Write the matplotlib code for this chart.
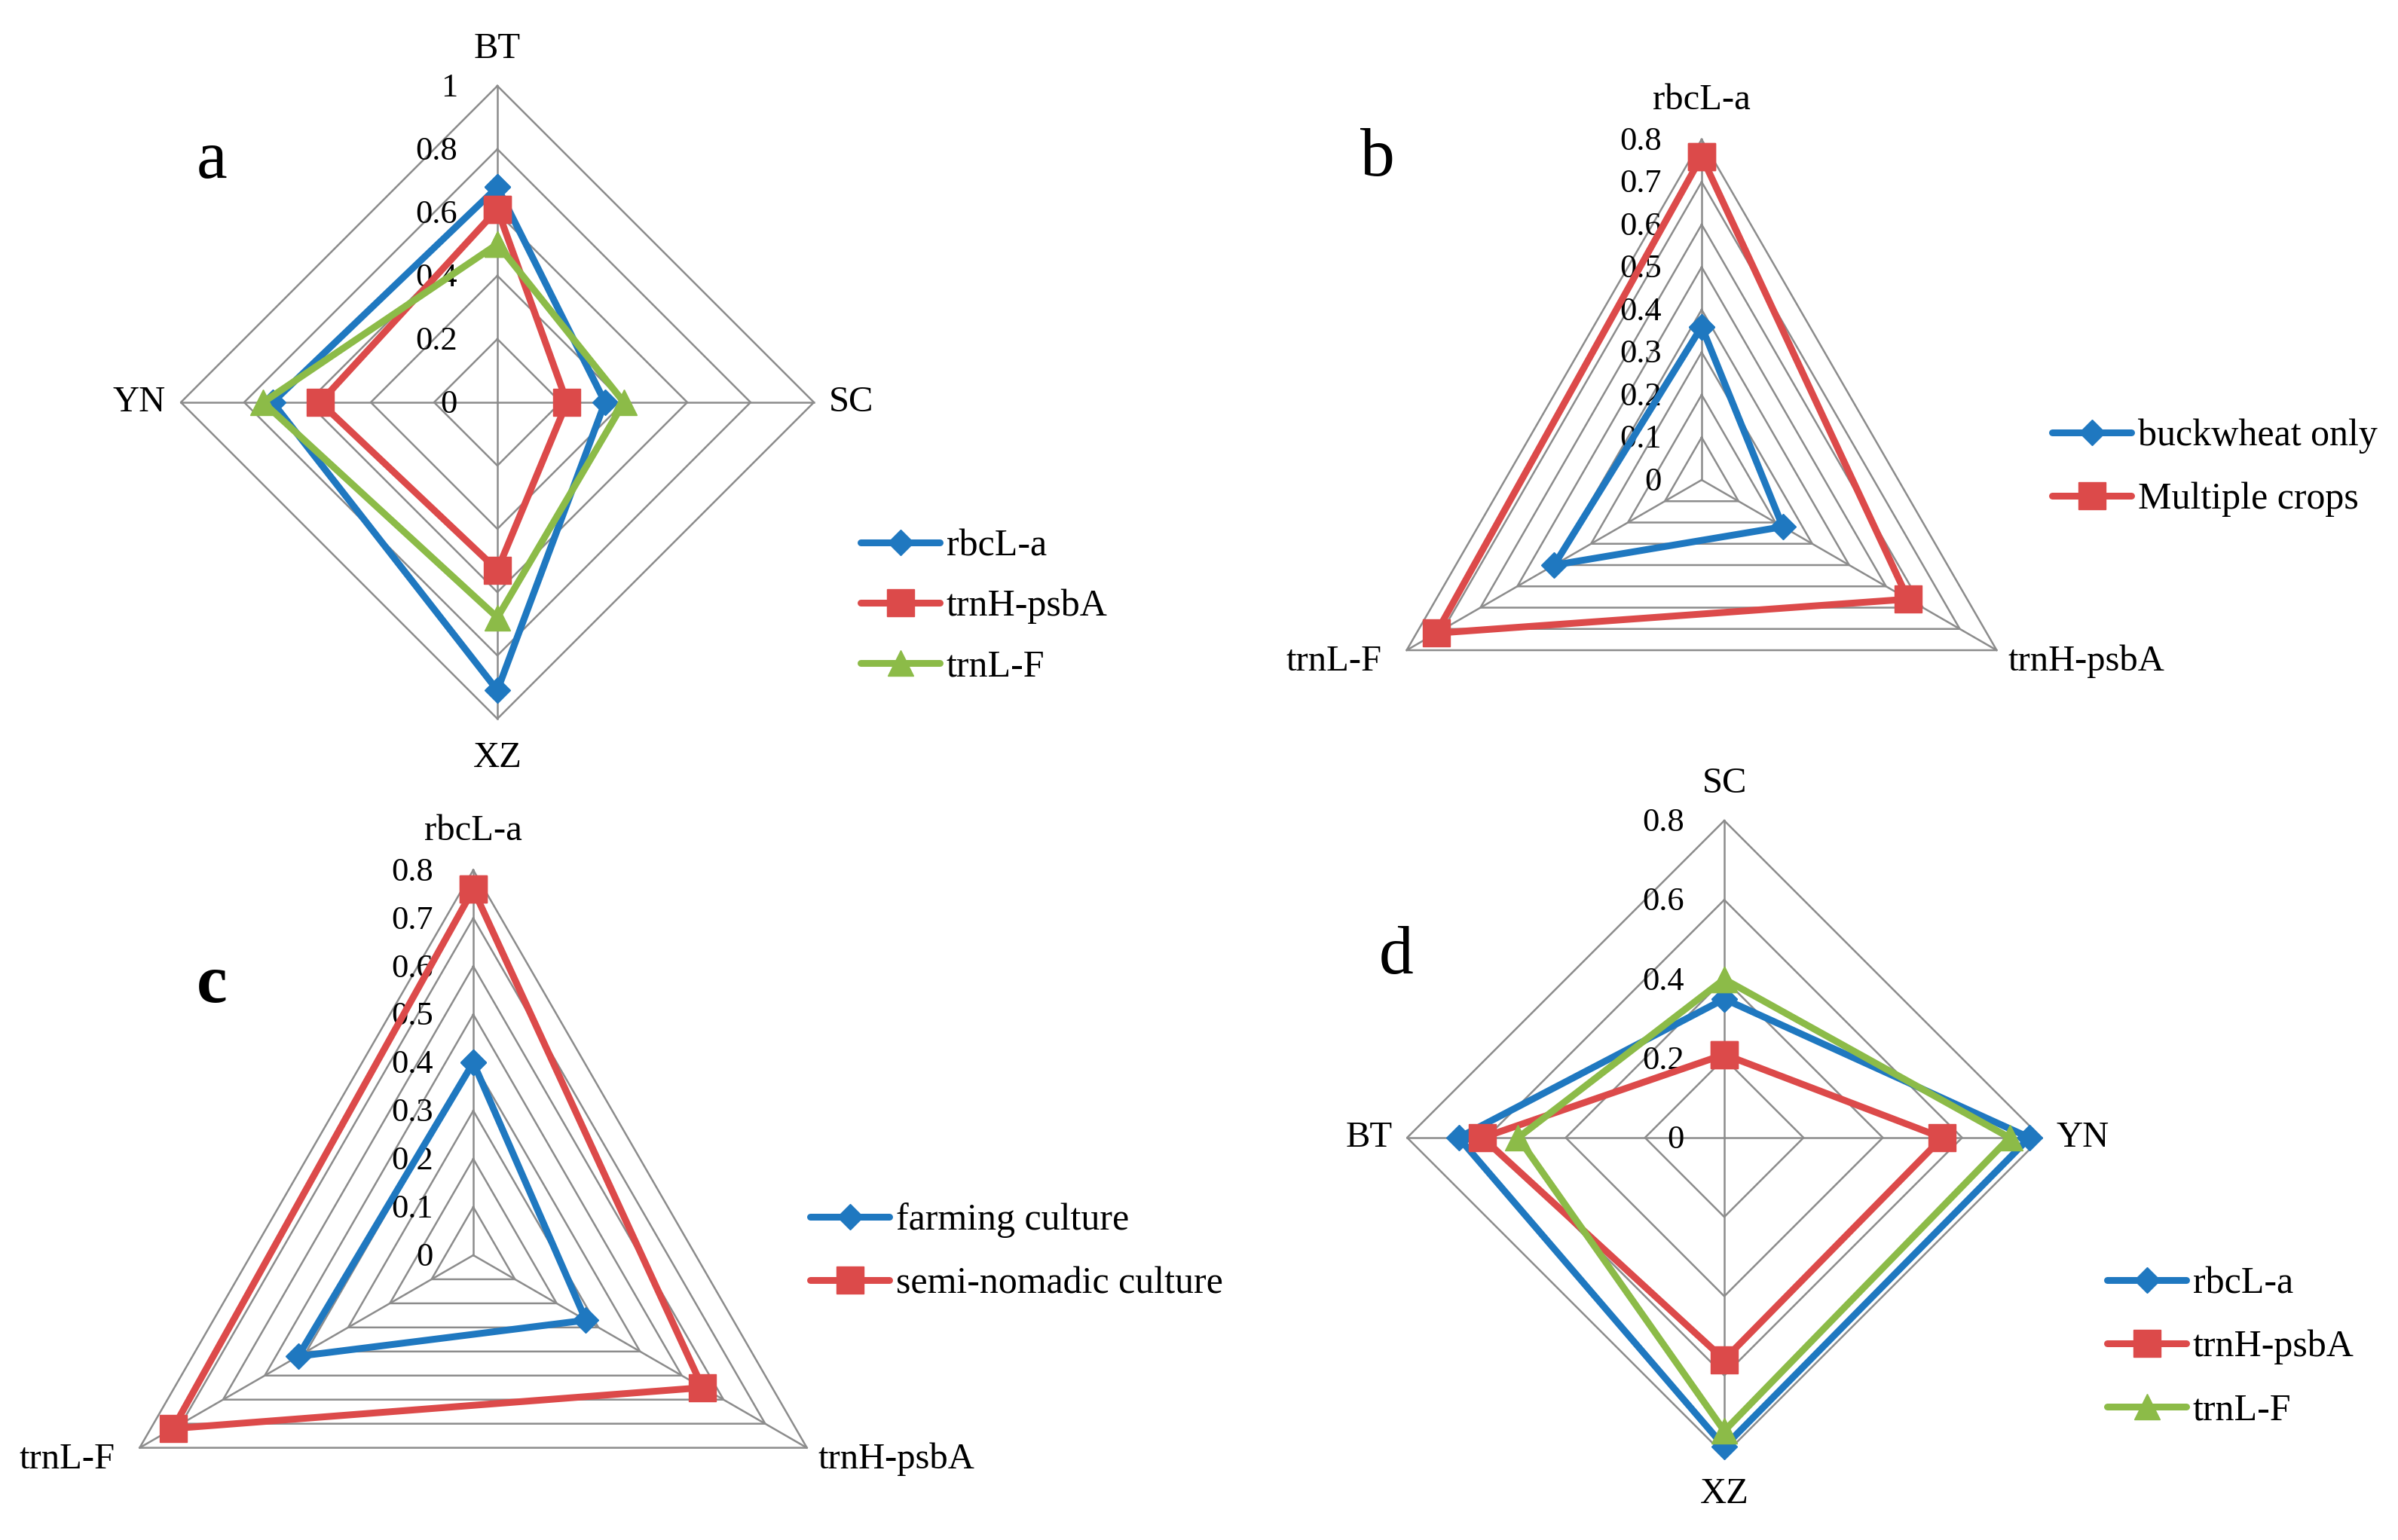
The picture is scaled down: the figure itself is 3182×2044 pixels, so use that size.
import numpy as np
import matplotlib
matplotlib.use('Agg')
import matplotlib.pyplot as plt
from matplotlib.lines import Line2D

# ---------------- data ----------------
a_categories = ['BT', 'SC', 'XZ', 'YN']
a_rbcL = [0.68, 0.34, 0.91, 0.71]
a_trnH = [0.61, 0.22, 0.53, 0.56]
a_trnL = [0.50, 0.40, 0.68, 0.74]
a_ticks = [0, 0.2, 0.4, 0.6, 0.8, 1.0]
a_tick_labels = ['0', '0.2', '0.4', '0.6', '0.8', '1']

b_categories = ['rbcL-a', 'trnH-psbA', 'trnL-F']
b_buckwheat = [0.36, 0.22, 0.40]
b_multiple = [0.76, 0.56, 0.72]
b_ticks = [0, 0.1, 0.2, 0.3, 0.4, 0.5, 0.6, 0.7, 0.8]
b_tick_labels = ['0', '0.1', '0.2', '0.3', '0.4', '0.5', '0.6', '0.7', '0.8']

c_categories = ['rbcL-a', 'trnH-psbA', 'trnL-F']
c_farming = [0.40, 0.27, 0.42]
c_semi = [0.76, 0.55, 0.72]
c_ticks = [0, 0.1, 0.2, 0.3, 0.4, 0.5, 0.6, 0.7, 0.8]
c_tick_labels = ['0', '0.1', '0.2', '0.3', '0.4', '0.5', '0.6', '0.7', '0.8']

d_categories = ['SC', 'YN', 'XZ', 'BT']
d_rbcL = [0.35, 0.77, 0.78, 0.67]
d_trnH = [0.21, 0.55, 0.56, 0.61]
d_trnL = [0.40, 0.72, 0.74, 0.52]
d_ticks = [0, 0.2, 0.4, 0.6, 0.8]
d_tick_labels = ['0', '0.2', '0.4', '0.6', '0.8']

marker_names = ['rbcL-a', 'trnH-psbA', 'trnL-F']

# ---------------- style ----------------
W, H, DPI = 3182, 2044, 100
BLUE, RED, GREEN = '#1f78c0', '#dc4a4a', '#8cbb48'
GRID = '#8c8c8c'
FONT = 'Liberation Serif'
plt.rcParams['font.family'] = [FONT, 'DejaVu Serif']

STY = {
    'D': dict(marker='D', ms=17),
    's': dict(marker='s', ms=26),
    '^': dict(marker='^', ms=25),
}

fig = plt.figure(figsize=(W / DPI, H / DPI), dpi=DPI)


def radar(center, unit, ticks, tick_labels, cats, series, letter, letter_pos,
          legend_pos, cat_offsets, spacing, letter_bold=False):
    cx, cy = center
    S = 1400
    ax = fig.add_axes([(cx - S / 2) / W, 1 - (cy + S / 2) / H, S / W, S / H])
    half = S / 2 / unit
    ax.set_xlim(-half, half)
    ax.set_ylim(-half, half)
    ax.axis('off')
    n = len(cats)
    th = np.deg2rad(90 - np.arange(n) * 360.0 / n)
    ct, st = np.cos(th), np.sin(th)
    vmax = ticks[-1]
    for t in ticks[1:]:
        xs = np.append(t * ct, t * ct[0])
        ys = np.append(t * st, t * st[0])
        ax.plot(xs, ys, color=GRID, lw=1.8, clip_on=False, zorder=1)
    for i in range(n):
        ax.plot([0, vmax * ct[i]], [0, vmax * st[i]], color=GRID, lw=1.8,
                clip_on=False, zorder=1)
    px = 1.0 / unit
    for t, lab in zip(ticks, tick_labels):
        ax.text(-53 * px, t - 3 * px, lab, ha='right', va='center',
                fontsize=32, color='black', zorder=2)
    handles = []
    for k, (name, vals, col, mk) in enumerate(series):
        v = np.asarray(vals)
        xs = np.append(v * ct, v[0] * ct[0])
        ys = np.append(v * st, v[0] * st[0])
        ax.plot(xs, ys, color=col, lw=6.5, clip_on=False, zorder=3 + k,
                markerfacecolor=col, markeredgecolor=col, mew=1,
                solid_joinstyle='miter', **STY[mk])
        handles.append(Line2D([], [], color=col, lw=6.5, markerfacecolor=col,
                              markeredgecolor=col, solid_capstyle='round',
                              **STY[mk]))
    for i, cat in enumerate(cats):
        dx, dy, ha = cat_offsets[i]
        ax.text(vmax * ct[i] + dx * px, vmax * st[i] - dy * px, cat,
                ha=ha, va='center', fontsize=35, color='black')
    fig.text(letter_pos[0] / W, 1 - letter_pos[1] / H, letter, ha='center',
             va='center', fontsize=66,
             fontweight='bold' if letter_bold else 'normal')
    fig.legend(handles, [s[0] for s in series], loc='center left',
               bbox_to_anchor=(legend_pos[0] / W, 1 - legend_pos[1] / H),
               frameon=False, borderpad=0, borderaxespad=0,
               handlelength=2.1, handletextpad=0.18, labelspacing=spacing,
               numpoints=1, prop={'family': FONT, 'size': 36})


diamond_offsets = [(0, -49, 'center'), (20, 0, 'left'), (0, 52, 'center'),
                   (-20, 0, 'right')]
tri_offsets = [(0, -52, 'center'), (15, 15, 'left'), (-33, 15, 'right')]

radar((660, 534), 420, a_ticks, a_tick_labels, a_categories,
      [(marker_names[0], a_rbcL, BLUE, 'D'),
       (marker_names[1], a_trnH, RED, 's'),
       (marker_names[2], a_trnL, GREEN, '^')],
      'a', (281, 214), (1142, 805), diamond_offsets, 0.67)

radar((2258, 637), 565, b_ticks, b_tick_labels, b_categories,
      [('buckwheat only', b_buckwheat, BLUE, 'D'),
       ('Multiple crops', b_multiple, RED, 's')],
      'b', (1828, 211), (2723, 621), tri_offsets, 0.75)

radar((628, 1666), 639, c_ticks, c_tick_labels, c_categories,
      [('farming culture', c_farming, BLUE, 'D'),
       ('semi-nomadic culture', c_semi, RED, 's')],
      'c', (281, 1308), (1075, 1662), tri_offsets, 0.75, letter_bold=True)

radar((2288, 1510), 526, d_ticks, d_tick_labels, d_categories,
      [(marker_names[0], d_rbcL, BLUE, 'D'),
       (marker_names[1], d_trnH, RED, 's'),
       (marker_names[2], d_trnL, GREEN, '^')],
      'd', (1853, 1270), (2796, 1788), diamond_offsets, 0.75)

fig.savefig('out.png', dpi=DPI)
